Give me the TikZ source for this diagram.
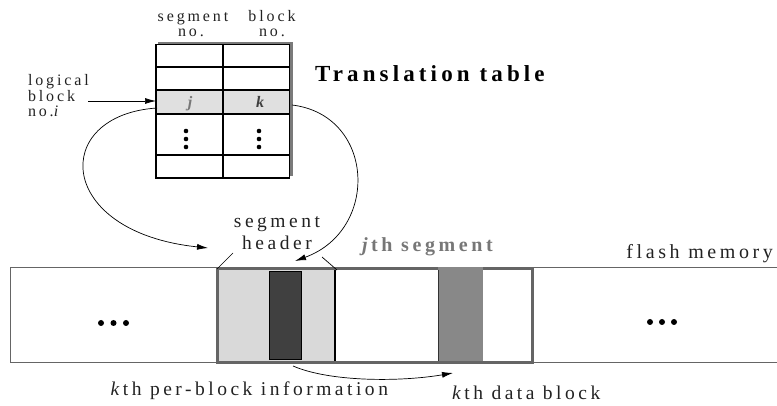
\documentclass[tikz,border=0pt]{standalone}
\usepackage{fontspec}
\setmainfont{Liberation Serif}[LetterSpace=18]
\usetikzlibrary{arrows.meta}
\newcommand{\fsz}[1]{\fontsize{#1}{#1}\selectfont}
\definecolor{rowgray}{HTML}{E0E0E0}
\definecolor{lightg}{HTML}{D9D9D9}
\definecolor{darkb}{HTML}{404040}
\definecolor{datag}{HTML}{888888}
\definecolor{seggray}{HTML}{656565}
\definecolor{shadowg}{HTML}{7A7A7A}
\definecolor{txt}{HTML}{222222}
\definecolor{jtxt}{HTML}{777777}
\begin{document}
\begin{tikzpicture}[x=1pt,y=-1pt,
  lbl/.style={inner sep=0pt, outer sep=0pt, text=txt},
  small/.style={lbl, font=\fsz{16}},
  big/.style={lbl, font=\fsz{19.5}},
  tline/.style={line width=1.3pt, black},
  conn/.style={line width=0.7pt, black, -{Latex[length=11pt,width=6pt]}},
  memline/.style={line width=1pt, seggray},
  thinline/.style={line width=0.7pt, black}]
\useasboundingbox (0,0) rectangle (777,406);

% ---------- translation table ----------
\fill[shadowg] (158,42) rectangle (293,176);
\fill[white] (156,44.5) rectangle (289.5,178);
\fill[rowgray] (156,90) rectangle (289.5,114);
\draw[tline] (156,44.5) rectangle (289.5,178);
\foreach \yy in {67,90,114,155} \draw[tline] (156,\yy) -- (289.5,\yy);
\draw[tline] (223,44.5) -- (223,178);

\node[small, anchor=base] (seghd) at (193,21.5) {segment};
\node[small, anchor=base] (segno) at (191,37) {no.};
\node[small, anchor=base] (blkhd) at (272,21.5) {block};
\node[small, anchor=base] (blkno) at (272,37) {no.};

\node[lbl, font=\fsz{16}\bfseries\itshape, text=jtxt, anchor=base] (cj) at (190,108) {j};
\node[lbl, font=\fsz{16}\bfseries\itshape, text=darkb, anchor=base] (ck) at (260,108) {k};

\foreach \yy in {131,139,147} {
  \fill[black] (186,\yy) circle (2.3);
  \fill[black] (259,\yy) circle (2.3);
}

\node[small, anchor=base west] (lg1) at (28,86) {logical};
\node[small, anchor=base west] (lg2) at (28,102) {block};
\node[small, anchor=base west] (lg3) at (28,117) {no.\textit{i}};

\node[lbl, font=\fsz{23}\bfseries, text=black, anchor=base west] (title) at (315,82) {Translation table};

\coordinate (lbarrow) at (88,101);
\coordinate (tleft) at (156,101);
\draw[conn] (lbarrow) -- (tleft);

% ---------- flash memory ----------
\draw[memline] (777,268) -- (10,268) -- (10,362) -- (777,362);

\foreach \xx in {101,113.5,126} \fill[black] (\xx,323) circle (3);
\foreach \xx in {650,662,674} \fill[black] (\xx,322) circle (3);

\fill[lightg] (217,269) rectangle (335,362);
\fill[darkb] (269,271) rectangle (301,359);
\draw[black, line width=0.8pt] (269,271) rectangle (301,359);
\draw[black, line width=1.3pt] (335,269) -- (335,362);
\draw[seggray, line width=3pt] (217,269) rectangle (532,362);
\fill[datag] (438,267) rectangle (483,360.5);
\draw[black!80, line width=0.8pt] (438,270) -- (438,360.5);

\node[big, anchor=base] (sh1) at (277,228) {segment};
\node[big, anchor=base] (sh2) at (277,250) {header};
\coordinate (hlA) at (233,253);
\coordinate (hlB) at (217,269);
\coordinate (hrA) at (322,257);
\coordinate (hrB) at (337,270);
\draw[thinline] (hlA) -- (hlB);
\draw[thinline] (hrA) -- (hrB);

\node[lbl, font=\fsz{20}\bfseries, text=jtxt, anchor=base west] (jseg) at (362,252) {\textit{j}th segment};
\node[lbl, font=\fsz{20}, anchor=base east] (flash) at (773,259) {flash memory};
\node[big, anchor=base east] (kinfol) at (388,395) {\textit{k}th per-block information};
\node[big, anchor=base west] (kdatal) at (452,399) {\textit{k}th data block};

% ---------- connectors ----------
\coordinate (jstart) at (157,108);
\coordinate (hdrL) at (208,248);
\draw[conn] (jstart) .. controls (50,115) and (55,232) .. (hdrL);
\coordinate (kstart) at (292,105);
\coordinate (hdrR) at (295,261);
\draw[conn] (kstart) .. controls (375,115) and (380,230) .. (hdrR);
\coordinate (kinfo) at (293,366);
\coordinate (kdata) at (453,373);
\draw[conn] (kinfo) .. controls (330,382) and (400,382) .. (kdata);
\end{tikzpicture}
\end{document}
